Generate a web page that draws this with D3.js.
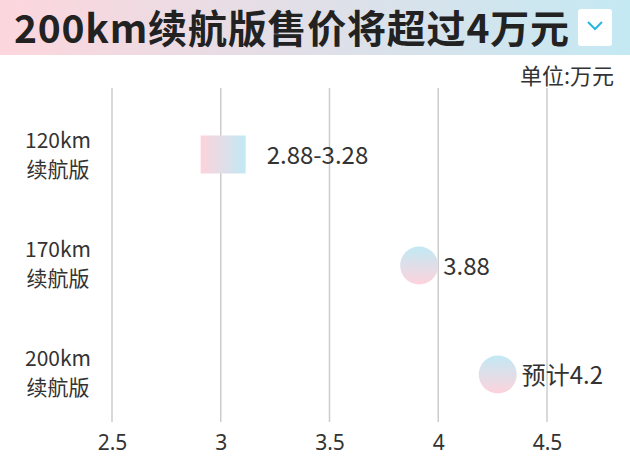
<!DOCTYPE html><html><head><meta charset="utf-8"><script src="https://cdn.jsdelivr.net/npm/d3@7"></script>
<style>body{margin:0;background:#fff}text{font-family:"Noto Sans CJK SC","Noto Sans",sans-serif}</style></head><body><svg id="c" width="630" height="473"></svg><script>
const categories=[["120km","续航版"],["170km","续航版"],["200km","续航版"]];
const lowValues=[2.88,3.88,4.2];
const highValues=[3.28,null,null];
const valueLabels=["2.88-3.28","3.88","预计4.2"];
const ticks=[2.5,3,3.5,4,4.5];
const svg=d3.select("#c");
const defs=svg.append("defs");
const g1=defs.append("linearGradient").attr("id","tg");
g1.append("stop").attr("offset","0").attr("stop-color","#fdd6dd");g1.append("stop").attr("offset","1").attr("stop-color","#c4e9f3");
const g2=defs.append("linearGradient").attr("id","rg");
g2.append("stop").attr("offset","0").attr("stop-color","#fdd3dc");g2.append("stop").attr("offset","1").attr("stop-color","#c2e9f4");
const g3=defs.append("linearGradient").attr("id","cg").attr("x1",0).attr("y1",0).attr("x2",0).attr("y2",1);
g3.append("stop").attr("offset","0").attr("stop-color","#c2e9f4");g3.append("stop").attr("offset","1").attr("stop-color","#fdd3dc");
svg.append("rect").attr("width",630).attr("height",55).attr("fill","url(#tg)");
svg.append("text").attr("x",14).attr("y",43).attr("font-size",39).attr("font-weight",700).attr("fill","#222").attr("textLength",555).text("200km续航版售价将超过4万元");
svg.append("rect").attr("x",578).attr("y",9).attr("width",34).attr("height",37).attr("rx",3).attr("fill","#fff");
svg.append("path").attr("d","M588,22 L595,29 L602,22").attr("fill","none").attr("stroke","#29b6e0").attr("stroke-width",2);
svg.append("text").attr("x",614).attr("y",84).attr("text-anchor","end").attr("font-size",22).attr("fill","#333").text("单位:万元");
const x=d3.scaleLinear().domain([2.5,4.5]).range([112,547]);
const y=d3.scaleBand().domain(d3.range(3)).range([100,427]);
const gy=svg.append("g").attr("transform","translate(0,426)").call(d3.axisBottom(x).tickValues(ticks).tickSize(0).tickFormat(d=>d));
gy.select(".domain").remove();
gy.selectAll("text").attr("font-size",21).attr("fill","#333").attr("dy","1em").style("font-family","Noto Sans, sans-serif");
svg.append("g").selectAll("line").data(ticks).join("line").attr("x1",d=>x(d)).attr("x2",d=>x(d)).attr("y1",88).attr("y2",422).attr("stroke","#ccc").attr("stroke-width",1.5);
categories.forEach((c,i)=>{const t=svg.append("text").attr("text-anchor","middle").attr("font-size",21).attr("fill","#333");
 t.append("tspan").attr("x",58).attr("y",y(i)+y.bandwidth()/2-7).text(c[0]);
 t.append("tspan").attr("x",58).attr("y",y(i)+y.bandwidth()/2+22).text(c[1]);});
lowValues.forEach((v,i)=>{const cy=y(i)+y.bandwidth()/2;
 if(highValues[i]!=null){const x0=x(v)+6;svg.append("rect").attr("x",x0).attr("y",cy-19).attr("width",45).attr("height",38).attr("fill","url(#rg)");
  svg.append("text").attr("x",x0+66).attr("y",cy+9).attr("font-size",24).attr("fill","#333").text(valueLabels[i]);}
 else{const cx=x(v)+(i==2?16:7);svg.append("circle").attr("cx",cx).attr("cy",cy+2).attr("r",19).attr("fill","url(#cg)");
  svg.append("text").attr("x",cx+24).attr("y",cy+11).attr("font-size",24).attr("fill","#333").text(valueLabels[i]);}
});
</script></body></html>
